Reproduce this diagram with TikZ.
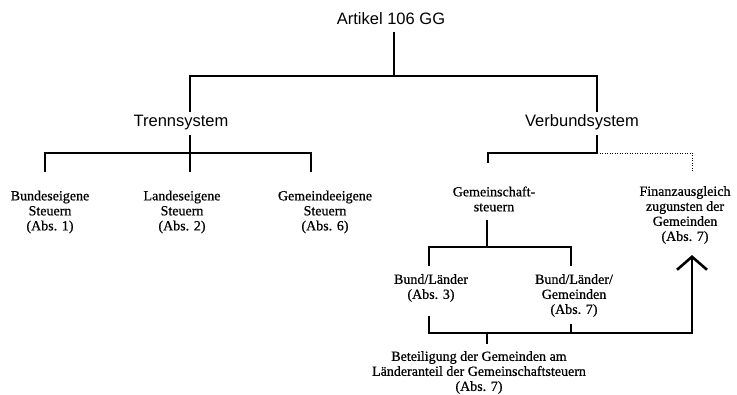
\documentclass[tikz,border=0pt]{standalone}
\usepackage{fontspec}
\setmainfont{Liberation Serif}[FakeBold=0.7]
\newfontfamily\arialfont{Liberation Sans}
\usetikzlibrary{arrows.meta}
\begin{document}
\begin{tikzpicture}[x=1pt,y=-1pt,
  sanslabel/.style={font=\arialfont\fontsize{16.5}{19}\selectfont, inner sep=3pt},
  seriflabel/.style={font=\fontsize{14}{15}\selectfont, align=center, inner sep=2pt},
  tree/.style={line width=2pt, line cap=rect, line join=miter},
  dotline/.style={line width=0.9pt, dash pattern=on 0.9pt off 1.6pt},
  bigarrow/.style={-{Straight Barb[length=13pt,width=30pt,line width=2.6pt]}}]
\fill[white] (0,0) rectangle (737,395);
\useasboundingbox (0,0) rectangle (737,395);

% nodes
\node[sanslabel] (art) at (391,19) {Artikel 106 GG};
\node[sanslabel] (trenn) at (181,122.5) {Trennsystem};
\node[sanslabel] (verb) at (582,122.5) {Verbundsystem};
\node[seriflabel] (bund) at (50,212) {Bundeseigene\\Steuern\\(Abs. 1)};
\node[seriflabel] (land) at (182,212) {Landeseigene\\Steuern\\(Abs. 2)};
\node[seriflabel] (gem) at (325,212) {Gemeindeeigene\\Steuern\\(Abs. 6)};
\node[seriflabel] (gsch) at (494,199) {Gemeinschaft-\\steuern};
\node[seriflabel] (fin) at (685,215) {Finanzausgleich\\zugunsten der\\Gemeinden\\(Abs. 7)};
\node[seriflabel] (bl) at (431,288) {Bund/Länder\\(Abs. 3)};
\node[seriflabel] (blg) at (574,295.5) {Bund/Länder/\\Gemeinden\\(Abs. 7)};
\node[seriflabel] (bet) at (479,372.5) {Beteiligung der Gemeinden am\\Länderanteil der Gemeinschaftsteuern\\(Abs. 7)};

% junctions
\coordinate (j0) at (394,76);
\coordinate (jT) at (190,76);
\coordinate (jV) at (597,76);
\coordinate (t0) at (190,153);
\coordinate (tL) at (45,153);
\coordinate (tR) at (311,153);
\coordinate (v0) at (597,153);
\coordinate (vL) at (488,153);
\coordinate (vR) at (692,153);
\coordinate (g0) at (487,247);
\coordinate (gL) at (429,247);
\coordinate (gR) at (571,247);
\coordinate (b0) at (487,333);
\coordinate (bL) at (429,333);
\coordinate (bR) at (571,333);
\coordinate (bF) at (692,333);

% level 1
\draw[tree, shorten <=5pt] (art.south -| j0) -- (j0);
\draw[tree, shorten <=1pt, shorten >=1pt] (trenn.north -| jT) -- (jT) -- (jV) -- (verb.north -| jV);

% Trennsystem
\draw[tree, shorten <=3pt] (trenn.south -| t0) -- (t0);
\draw[tree, shorten <=17pt, shorten >=17pt] (bund.north -| tL) -- (tL) -- (tR) -- (gem.north -| tR);
\draw[tree, shorten >=17pt] (t0) -- (land.north -| t0);

% Verbundsystem
\draw[tree, shorten <=3pt, shorten >=22pt] (verb.south -| v0) -- (v0) -- (vL) -- (gsch.north -| vL);
\draw[dotline, shorten >=12pt] (v0) -- (vR) -- (fin.north -| vR);

% Gemeinschaftsteuern
\draw[tree, shorten <=7pt] (gsch.south -| g0) -- (g0);
\draw[tree, shorten <=7pt, shorten >=7pt] (bl.north -| gL) -- (gL) -- (gR) -- (blg.north -| gR);

% bottom
\draw[tree, bigarrow, shorten <=13pt, shorten >=9pt] (bl.south -| bL) -- (bL) -- (bF) -- (fin.south -| bF);
\draw[tree, shorten <=6pt] (blg.south -| bR) -- (bR);
\draw[tree, shorten >=6pt] (b0) -- (bet.north -| b0);
\end{tikzpicture}
\end{document}
